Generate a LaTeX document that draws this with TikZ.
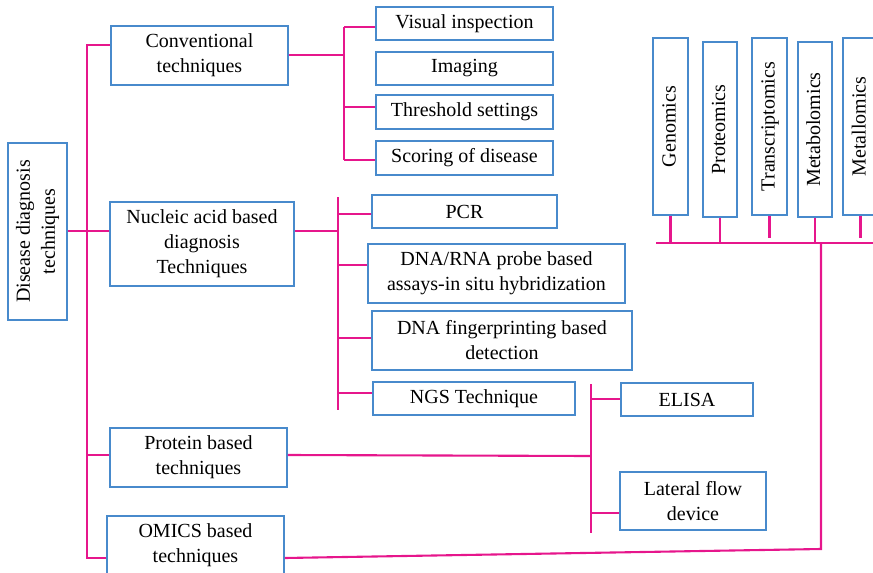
\documentclass[tikz,border=0pt]{standalone}
\usepackage{fontspec}
\setmainfont{Liberation Serif}
\usepackage{graphicx}
\usetikzlibrary{calc}
\definecolor{boxblue}{RGB}{72,138,204}
\definecolor{wirepink}{RGB}{230,22,140}
\tikzset{
  box/.style={draw=boxblue, line width=1.7pt, fill=white, inner sep=0pt,
    align=center, font=\fontsize{20}{25}\selectfont},
  wire/.style={draw=wirepink, line width=2.1pt},
}
\newcommand{\uptext}[1]{\rotatebox{90}{\begin{tabular}{@{}c@{}}#1\end{tabular}}}
\begin{document}
\begin{tikzpicture}[x=1pt,y=-1pt]
\useasboundingbox (0,0) rectangle (873,573);

% root and first-level categories
\node[box, minimum width=59, minimum height=177] (dis) at (37.5,231.5) {\uptext{Disease diagnosis\\techniques}};
\node[box, minimum width=177, minimum height=59] (conv) at (199.5,55.5) {Conventional\\techniques};
\node[box, minimum width=184, minimum height=84] (nuc) at (202,244) {Nucleic acid based\\diagnosis\\Techniques};
\node[box, minimum width=177, minimum height=59] (prot) at (198.5,457.5) {Protein based\\techniques};
\node[box, minimum width=177, minimum height=59] (omics) at (195.5,545.5) {OMICS based\\techniques};

% conventional techniques
\node[box, minimum width=177, minimum height=33] (vis) at (464.5,23.5) {Visual inspection};
\node[box, minimum width=177, minimum height=33] (img) at (464.5,68.5) {Imaging};
\node[box, minimum width=177, minimum height=34] (thr) at (464.5,112) {Threshold settings};
\node[box, minimum width=177, minimum height=34] (sco) at (464.5,158) {Scoring of disease};

% nucleic acid based techniques
\node[box, minimum width=185, minimum height=33] (pcr) at (464.5,211.5) {PCR};
\node[box, minimum width=257, minimum height=59] (dna) at (496.5,273.5) {DNA/RNA probe based\\assays-in situ hybridization};
\node[box, minimum width=260, minimum height=59] (fp) at (502,340.5) {DNA fingerprinting based\\detection};
\node[box, minimum width=202, minimum height=33] (ngs) at (474,398.5) {NGS Technique};

% protein based techniques
\node[box, minimum width=132, minimum height=33] (elisa) at (687,399.5) {ELISA};
\node[box, minimum width=146, minimum height=58] (lfd) at (693,501) {Lateral flow\\device};

% omics branches
\node[box, minimum width=35, minimum height=177] (gen) at (670.5,126.5) {\uptext{Genomics}};
\node[box, minimum width=34, minimum height=175] (pro) at (720,129.5) {\uptext{Proteomics}};
\node[box, minimum width=35, minimum height=177] (tra) at (769.5,126.5) {\uptext{Transcriptomics}};
\node[box, minimum width=34, minimum height=175] (met) at (815,129.5) {\uptext{Metabolomics}};
\node[box, minimum width=35, minimum height=177] (mtl) at (860.5,126.5) {\uptext{Metallomics}};

% main trunk
\coordinate (tTop) at (87,45);
\coordinate (tBot) at (87,558);
\draw[wire] (tTop -| conv.west) -- (tTop) -- (tBot) -- (tBot -| omics.west);
\draw[wire] (dis.east |- 0,231) -- (nuc.west |- 0,231);
\draw[wire] (tTop |- 0,455) -- (prot.west |- 0,455);

% conventional bar
\coordinate (cBar) at (344,55);
\draw[wire] (conv.east |- cBar) -- (cBar);
\draw[wire] (cBar |- 0,27) -- (cBar |- 0,160);
\draw[wire] (cBar |- 0,27) -- (vis.west |- 0,27);
\draw[wire] (cBar |- 0,107) -- (thr.west |- 0,107);
\draw[wire] (cBar |- 0,160) -- (sco.west |- 0,160);

% nucleic acid bar
\coordinate (nBar) at (338,231);
\draw[wire] (nuc.east |- nBar) -- (nBar);
\draw[wire] (nBar |- 0,197) -- (nBar |- 0,410);
\draw[wire] (nBar |- 0,214) -- (pcr.west |- 0,214);
\draw[wire] (nBar |- 0,265) -- (dna.west |- 0,265);
\draw[wire] (nBar |- 0,338) -- (fp.west |- 0,338);
\draw[wire] (nBar |- 0,393) -- (ngs.west |- 0,393);

% protein bar
\coordinate (pBar) at (591,456);
\draw[wire] (prot.east |- 0,455) -- (pBar);
\draw[wire] (pBar |- 0,384) -- (pBar |- 0,533);
\draw[wire] (pBar |- 0,399) -- (elisa.west |- 0,399);
\draw[wire] (pBar |- 0,513) -- (lfd.west |- 0,513);

% omics bar
\coordinate (oBar) at (821,243);
\coordinate (oEnd) at (821,549);
\coordinate (oLeft) at (656,243);
\coordinate (oRight) at (880,243);
\draw[wire] (omics.east |- tBot) -- (oEnd) -- (oBar);
\draw[wire] (oLeft) -- (oRight);
\draw[wire] (gen.south) -- (gen.south |- oBar);
\draw[wire] (pro.south) -- (pro.south |- oBar);
\draw[wire] (tra.south) -- (tra.south |- 0,238);
\draw[wire] (met.south) -- (met.south |- oBar);
\draw[wire] (mtl.south) -- (mtl.south |- 0,238);
\end{tikzpicture}
\end{document}
